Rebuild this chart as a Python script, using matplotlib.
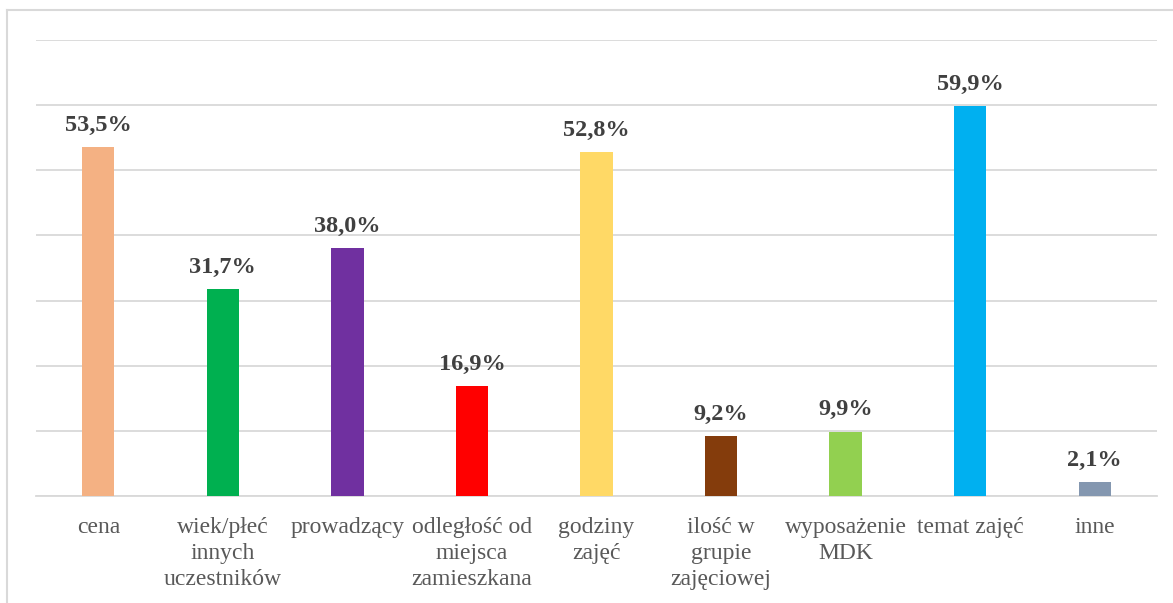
import matplotlib.pyplot as plt
from matplotlib.lines import Line2D

categories = ["cena", "wiek/płeć\ninnych\nuczestników", "prowadzący",
              "odległość od\nmiejsca\nzamieszkana", "godziny\nzajęć",
              "ilość w\ngrupie\nzajęciowej", "wyposażenie\nMDK", "temat zajęć", "inne"]
values = [53.5, 31.7, 38.0, 16.9, 52.8, 9.2, 9.9, 59.9, 2.1]
colors = ["#F4B183", "#00B050", "#7030A0", "#FF0000", "#FFD966",
          "#843C0C", "#92D050", "#00B0F0", "#8497B0"]

plt.rcParams["font.family"] = ["Liberation Serif", "DejaVu Serif"]

fig = plt.figure(figsize=(11.73, 6.03), dpi=100)
ax = fig.add_axes([36 / 1173, 1 - 496 / 603, (1157 - 36) / 1173, (496 - 40) / 603])

x = range(len(values))
ax.bar(x, values, width=0.26, color=colors, zorder=3)

for xi, v in zip(x, values):
    ax.annotate(f"{v:.1f}%".replace(".", ","), (xi, v), xytext=(0, 8),
                textcoords="offset points", ha="center", va="bottom",
                fontsize=17.5, fontweight="bold", color="#404040")

ax.set_xlim(-0.5, len(values) - 0.5)
ax.set_ylim(0, 70)
ax.set_yticks(range(0, 71, 10))
ax.yaxis.grid(True, color="#D9D9D9", linewidth=1.3)
ax.set_axisbelow(True)
ax.tick_params(axis="y", left=False, labelleft=False)
ax.tick_params(axis="x", length=0, pad=15)
ax.set_xticks(list(x))
ax.set_xticklabels(categories, fontsize=17, color="#595959", linespacing=1.32, va="top")
for s in ["top", "right", "left"]:
    ax.spines[s].set_visible(False)
ax.spines["bottom"].set_color("#D9D9D9")
ax.spines["bottom"].set_linewidth(1.3)

# chart area border (cropped at right and bottom)
fig.add_artist(Line2D([7 / 1173, 7 / 1173], [0, 1 - 10 / 603], color="#D9D9D9", linewidth=1.5))
fig.add_artist(Line2D([7 / 1173, 1], [1 - 10 / 603, 1 - 10 / 603], color="#D9D9D9", linewidth=1.5))

fig.savefig("out.png", dpi=100)
